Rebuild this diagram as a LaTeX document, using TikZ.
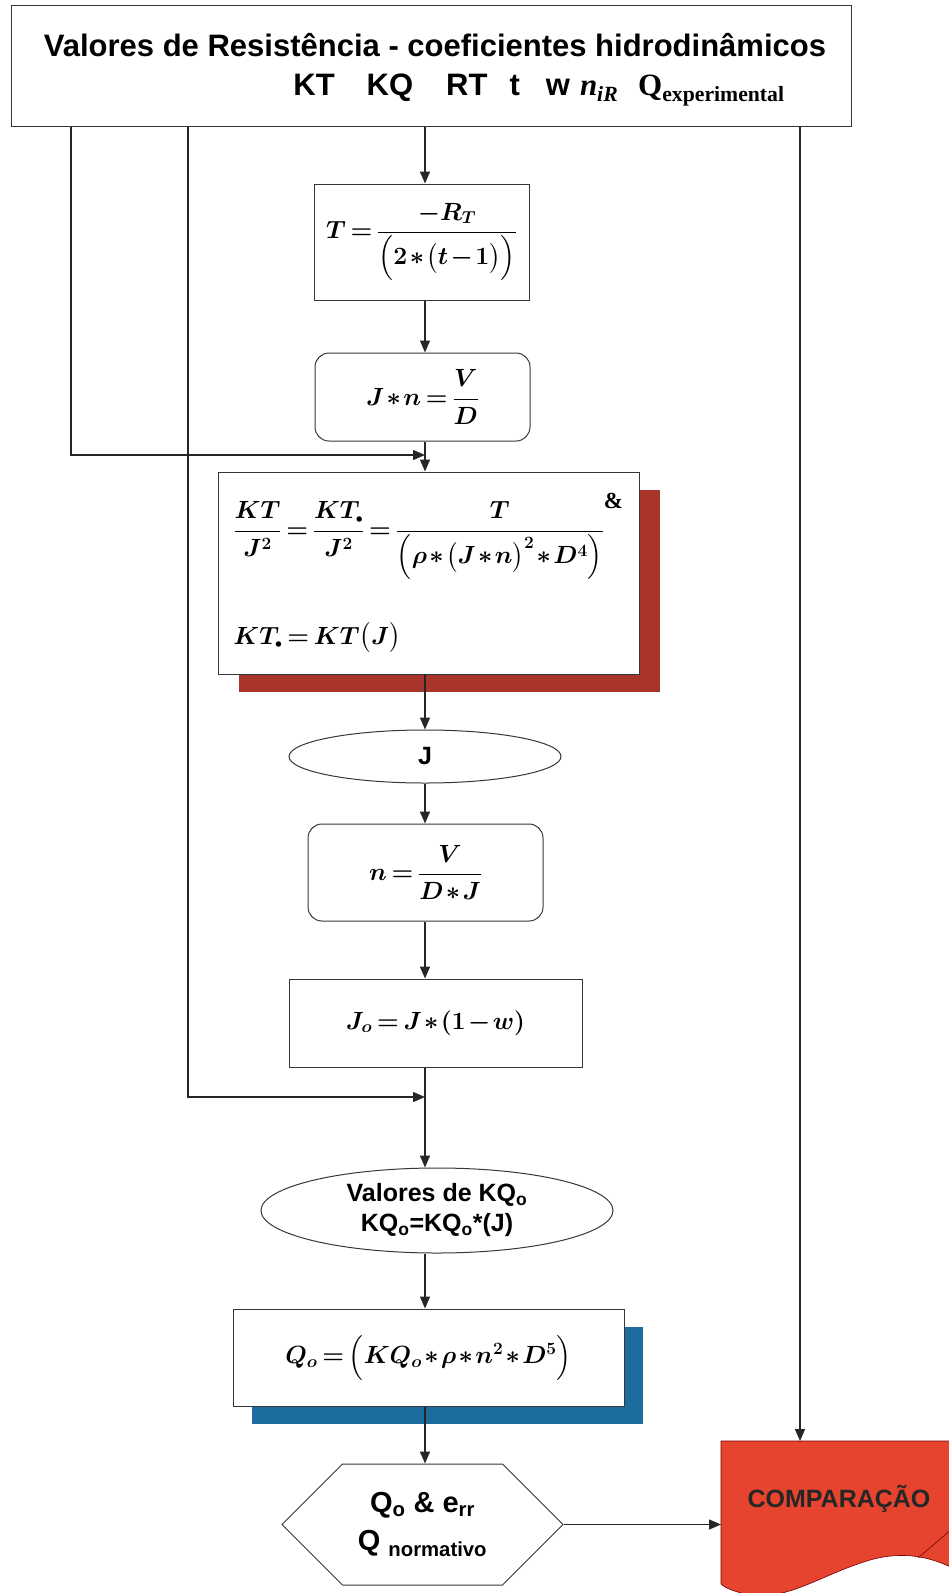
\documentclass[tikz,border=0pt]{standalone}
\usepackage{amsmath,amssymb}
\usepackage[no-math]{fontspec}
\setmainfont{Liberation Sans}
\newfontfamily\timesbf{Liberation Serif}
\usepackage{xcolor}
\definecolor{linegray}{RGB}{55,55,55}
\definecolor{shadowred}{RGB}{168,52,42}
\definecolor{shadowblue}{RGB}{28,108,160}
\definecolor{compred}{RGB}{230,68,46}
\usepackage{tikz}
\usetikzlibrary{arrows.meta,positioning,shapes.geometric,shapes.symbols,shadows}
\newcommand{\tightmath}{\thickmuskip=3mu\medmuskip=1.5mu\boldmath}

\begin{document}
\begin{tikzpicture}[x=1pt,y=-1pt,
titlebox/.style={draw=linegray,line width=1pt,fill=white,align=center,inner sep=0pt,font=\fontsize{31}{39}\selectfont\bfseries},
proc/.style={draw=linegray,line width=1pt,fill=white,align=center,inner sep=0pt,font=\fontsize{25}{29}\selectfont\tightmath},
rproc/.style={proc,rounded corners=14pt},
term/.style={ellipse,draw=linegray,line width=1pt,fill=white,align=center,inner sep=0pt,font=\fontsize{25}{30}\selectfont\bfseries},
outp/.style={signal,signal to=west and east,signal pointer angle=90,draw=linegray,line width=1pt,fill=white,align=center,inner sep=0pt,font=\fontsize{29}{38}\selectfont\bfseries},
redshadow/.style={drop shadow={shadow xshift=21pt,shadow yshift=-18pt,fill=shadowred,opacity=1}},
blueshadow/.style={drop shadow={shadow xshift=19pt,shadow yshift=-18pt,fill=shadowblue,opacity=1}},
flow/.style={-{Triangle[length=12pt,width=10pt]},line width=1.4pt,draw=black!85},
lab/.style={font=\fontsize{25}{30}\selectfont\bfseries,text=black!85}]
\useasboundingbox (0,0) rectangle (949,1593);
% main column of the flow chart
\node[titlebox,minimum width=840pt,minimum height=121pt] (res) at (431,65.5) {\rule{0pt}{32pt}\hspace*{8pt}Valores de Resistência - coeficientes hidrodinâmicos\\
\hspace*{216pt}KT\hspace{32pt}KQ\hspace{33pt}RT\hspace{22pt}t\hspace{26pt}w\hspace{10pt}{\timesbf\itshape n\textsubscript{iR}}\hspace{20pt}{\timesbf Q\textsubscript{experimental}}};
\node[proc,minimum width=215pt,minimum height=116pt] (tbox) at (421.5,242) {$T=\dfrac{-R_T}{\Bigl(2*\bigl(t-1\bigr)\Bigr)}$};
\node[rproc,minimum width=215pt,minimum height=88pt] (jn) at (422.5,397) {$J*n=\dfrac{V}{D}$};
\node[proc,redshadow,minimum width=421pt,minimum height=202pt,align=left] (kt) at (428.5,573) {\mbox{$\dfrac{KT}{J^2}=\dfrac{KT_{\scriptscriptstyle\bullet}}{J^2}=\dfrac{T}{\Bigl(\rho*\bigl(J*n\bigr)^2*D^4\Bigr)}^{\mbox{\fontsize{23}{23}\timesbf\bfseries\&}}$}\\[42pt]
\mbox{$KT_{\scriptscriptstyle\bullet}=KT\bigl(J\bigr)$}};
\node[term,minimum width=272pt,minimum height=53pt] (jv) at (425,756.5) {J};
\node[rproc,minimum width=235pt,minimum height=97pt] (nbox) at (425.5,872.5) {$n=\dfrac{V}{D*J}$};
\node[proc,minimum width=293pt,minimum height=88pt] (jo) at (435.5,1023) {$J_o=J*(1-w)$};
\node[term,minimum width=352pt,minimum height=85pt] (kq) at (437,1210.5) {Valores de KQ\textsubscript{o}\\KQ\textsubscript{o}=KQ\textsubscript{o}*(J)};
\node[proc,blueshadow,minimum width=391pt,minimum height=97pt] (qo) at (428.5,1357.5) {\raisebox{8pt}{$Q_o=\Bigl(KQ_o*\rho*n^2*D^5\Bigr)$}};
\node[outp,minimum width=281pt,minimum height=121pt] (hex) at (422.5,1524.5) {Q\textsubscript{o} \& e\textsubscript{rr}\\Q \textsubscript{normativo}};
% comparison document, cut by the page edge
\coordinate (cmpnw) at (721,1441);
\coordinate (cmptop) at (800,1441);
\filldraw[fill=compred,draw=red!45!black,line width=.6pt] (cmpnw) -- (960,1441) -- (960,1572) .. controls (925,1552) and (895,1553) .. (870,1560) .. controls (820,1575) and (790,1600) .. (750,1595) .. controls (735,1592) and (725,1588) .. (721,1584) -- cycle;
\draw[red!45!black,line width=.6pt] (918,1558) -- (960,1522);
\node[lab] (cmp) at (839,1499) {COMPARAÇÃO};
% connectors
\coordinate (spine) at (425,0);
\coordinate (feedA) at (71,455);
\coordinate (feedB) at (188,1097);
\draw[flow] (res.south -| spine) -- (tbox.north -| spine);
\draw[flow] (tbox.south -| spine) -- (jn.north -| spine);
\draw[flow] (jn.south -| spine) -- (kt.north -| spine);
\draw[flow] (kt.south -| spine) -- (jv.north -| spine);
\draw[flow] (jv.south -| spine) -- (nbox.north -| spine);
\draw[flow] (nbox.south -| spine) -- (jo.north -| spine);
\draw[flow] (jo.south -| spine) -- (kq.north -| spine);
\draw[flow] (kq.south -| spine) -- (qo.north -| spine);
\draw[flow] (qo.south -| spine) -- (hex.north -| spine);
\draw[flow] (res.south -| feedA) |- (feedA -| spine);
\draw[flow] (res.south -| feedB) |- (feedB -| spine);
\draw[flow] (hex.east) -- (hex.east -| cmpnw);
\draw[flow] (res.south -| cmptop) -- (cmptop);
\end{tikzpicture}
\end{document}
